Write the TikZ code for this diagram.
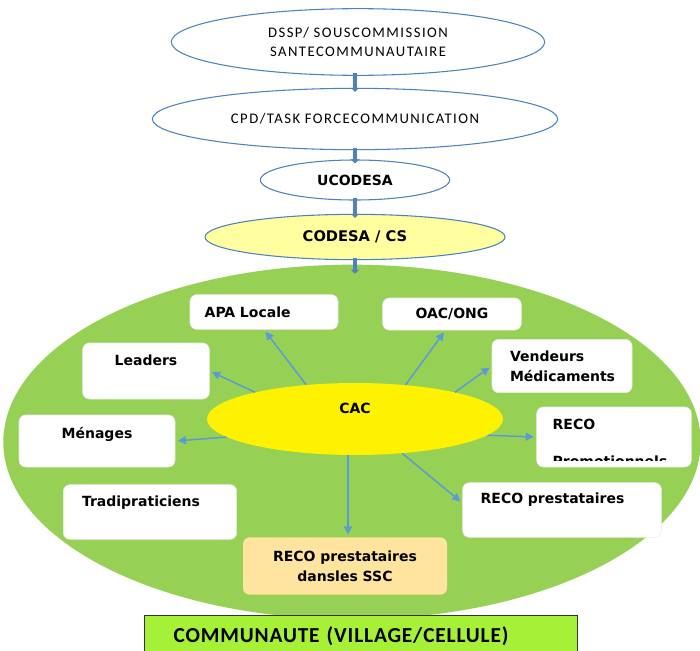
\documentclass[tikz,border=0pt]{standalone}
\usepackage{fontspec}
\setmainfont{DejaVu Sans}
\newfontfamily\thinfont{Carlito}[LetterSpace=10]
\newfontfamily\capfont{Carlito}[LetterSpace=4]
\usetikzlibrary{arrows.meta, positioning, calc, shapes.geometric}
\definecolor{edgeblue}{RGB}{79,129,189}
\definecolor{arrowblue}{RGB}{91,155,213}
\definecolor{fieldgreen}{RGB}{150,208,85}
\definecolor{paleyellow}{RGB}{255,255,160}
\definecolor{palebeige}{RGB}{255,228,160}
\definecolor{limegreen}{RGB}{166,240,56}
\tikzset{
  level/.style={draw=edgeblue, ellipse, fill=white, inner sep=0pt, line width=0.8pt},
  thin/.style={font=\thinfont\fontsize{11}{14}\selectfont, align=center},
  bold/.style={font=\bfseries\fontsize{10.5}{15}\selectfont},
  box/.style={draw=black!8, rounded corners=5pt, fill=white, inner ysep=0pt, bold},
  link/.style={-{Triangle[length=6pt, width=6pt]}, arrowblue, line width=1.1pt, shorten >=2pt},
  stub/.style={-{Triangle[length=3pt, width=6pt]}, edgeblue, line width=3pt,
    shorten <=-2pt, shorten >=-3pt},
}
\begin{document}
\begin{tikzpicture}[x=0.75pt, y=-0.75pt]
  \useasboundingbox (0,0) rectangle (700,650);
  % chain of levels
  \node[level, thin, minimum width=280pt, minimum height=50pt] (dssp) at (358,42)
    {DSSP/ SOUSCOMMISSION\\SANTECOMMUNAUTAIRE};
  \node[level, thin, minimum width=304pt, minimum height=46pt] (cpd) at (355,119)
    {CPD/TASK FORCECOMMUNICATION};
  \node[level, bold, minimum width=142pt, minimum height=30pt] (ucodesa) at (355,180) {UCODESA};
  \node[level, fill=paleyellow, font=\bfseries\fontsize{11}{13}\selectfont,
    minimum width=225pt, minimum height=34pt] (codesa) at (355,237) {CODESA / CS};
  \draw[stub] (cpd.north |- dssp.south) -- (cpd.north);
  \draw[stub] (cpd.south) -- (ucodesa.north);
  \draw[stub] (ucodesa.south) -- (codesa.north);

  % community field
  \node[ellipse, fill=fieldgreen, minimum width=523pt, minimum height=266pt] (field) at (352,442) {};
  \draw[stub, shorten >=-7pt] (codesa.south) -- (codesa.south |- field.north);
  \node[ellipse, fill=yellow, inner sep=0pt, bold, text depth=16pt,
    minimum width=222pt, minimum height=54pt] (cac) at (355,419) {CAC};

  % actors
  \node[box, minimum width=111pt, minimum height=26pt, inner xsep=11pt, text width=89pt, align=left]
    (apa) at (264,312) {APA Locale};
  \node[box, minimum width=104pt, minimum height=24pt, align=center] (oac) at (452,314) {OAC/ONG};
  \node[box, minimum width=95pt, minimum height=42pt, text depth=16.5pt, align=center]
    (leaders) at (146,371) {Leaders};
  \node[box, minimum width=105pt, minimum height=40pt, inner xsep=13.5pt, text width=78pt, align=left]
    (vend) at (562,366) {Vendeurs\\Médicaments};
  \node[box, minimum width=117pt, minimum height=39pt, text depth=12pt, align=center]
    (menages) at (97,441) {Ménages};
  \node[box, minimum width=116pt, minimum height=45pt, inner xsep=12pt, text width=92pt,
    text depth=19.5pt, align=left] (promo) at (614,437) {RECO};
  \begin{scope}
    \clip (promo.north west) rectangle ($(promo.south east)+(0,-7)$);
    \node[bold, anchor=base west, inner sep=0pt] (promotxt) at ($(promo.south west)+(16,-1)$) {Promotionnels};
  \end{scope}
  \node[box, minimum width=130pt, minimum height=41pt, inner xsep=14pt, text width=102pt,
    text depth=16pt, align=left] (tradi) at (150,512) {Tradipraticiens};
  \node[box, minimum width=149pt, minimum height=41pt, inner xsep=13.5pt, text width=122pt,
    text depth=17pt, align=left] (prest) at (562,510) {RECO prestataires};
  \node[box, fill=palebeige, draw=none, minimum width=153pt, minimum height=43pt, align=center]
    (ssc) at (345,566) {RECO prestataires\\dansles SSC};

  \draw[link] (cac.145) -- (apa.south);
  \draw[link] (cac.34) -- (oac.248);
  \draw[link] (cac.165) -- (leaders.east);
  \draw[link] (cac.15) -- (vend.west);
  \draw[link] (cac.188) -- (menages.east);
  \draw[link] (cac.353) -- (promo.west);
  \draw[link] (cac.259) -- (cac.259 |- ssc.north);
  \draw[link] (cac.324) -- (prest.176);

  % base
  \node[draw=black!80, fill=limegreen, minimum width=325pt, minimum height=33pt, text depth=4pt,
    inner xsep=22pt, text width=281pt, align=left,
    font=\capfont\bfseries\fontsize{16}{18}\selectfont] (comm) at (361,637)
    {COMMUNAUTE (VILLAGE/CELLULE)};
\end{tikzpicture}
\end{document}
